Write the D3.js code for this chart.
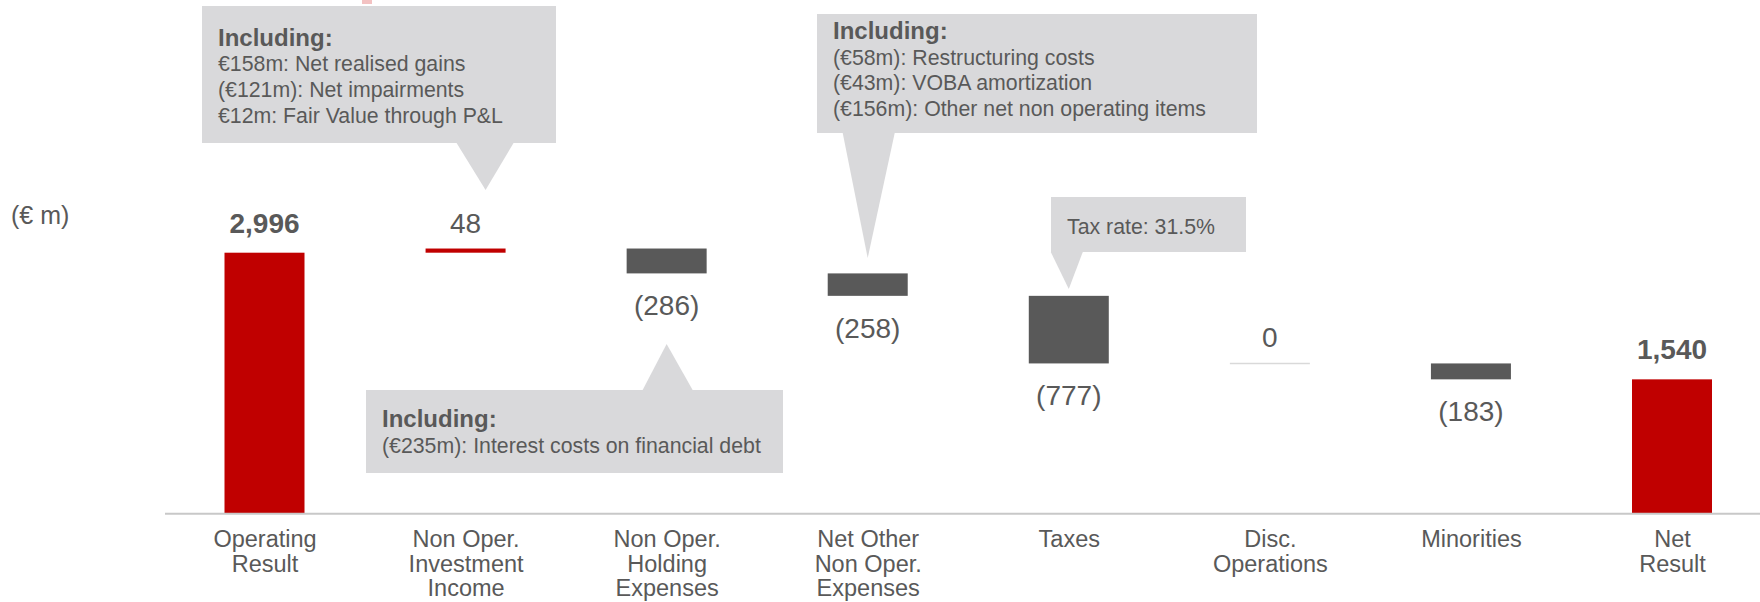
<!DOCTYPE html>
<html>
<head>
<meta charset="utf-8">
<script src="https://cdn.jsdelivr.net/npm/d3@7"></script>
<style>
  body { margin: 0; background: #fff; }
  svg { display: block; font-family: "Liberation Sans", Arial, sans-serif; }
</style>
</head>
<body>
<div id="chart"></div>
<script>
// data (€ m)
var categories = ["Operating\nResult", "Non Oper.\nInvestment\nIncome", "Non Oper.\nHolding\nExpenses",
    "Net Other\nNon Oper.\nExpenses", "Taxes", "Disc.\nOperations", "Minorities", "Net\nResult"];
var values = [2996, 48, -286, -258, -777, 0, -183, 1540];
var isTotal = [true, false, false, false, false, false, false, true];

var unitLabel = "(€ m)";
var investNotes = ["Including:", "€158m: Net realised gains", "(€121m): Net impairments", "€12m: Fair Value through P&L"];
var holdingNotes = ["Including:", "(€235m): Interest costs on financial debt"];
var otherNotes = ["Including:", "(€58m): Restructuring costs", "(€43m): VOBA amortization", "(€156m): Other net non operating items"];
var taxNotes = ["Tax rate: 31.5%"];

var width = 1760, height = 602;
var red = "#C00000", dark = "#595959", boxFill = "#D9D9DB", textCol = "#595959";

var svg = d3.select("#chart").append("svg")
    .attr("width", width)
    .attr("height", height);

// scales
var x = d3.scalePoint()
    .domain(categories)
    .range([264.5, 1672]);
var barW = 80;
var y = d3.scaleLinear()
    .domain([0, 2996])
    .range([513.3, 252.7]);

// waterfall steps
var run = 0;
var steps = values.map(function(v, i) {
    var s;
    if (isTotal[i]) { s = {lo: 0, hi: v}; run = v; }
    else { s = {lo: Math.min(run, run + v), hi: Math.max(run, run + v)}; run = run + v; }
    s.v = v; s.cat = categories[i]; s.total = isTotal[i];
    return s;
});

// tiny red tip cut off at the top
svg.append("rect").attr("x", 362).attr("y", 0).attr("width", 10).attr("height", 4)
    .attr("fill", "#f3c2c2");

// callouts
function callout(lines, bx, by, bw, bh, tri, firstBase) {
    var g = svg.append("g");
    g.append("rect").attr("x", bx).attr("y", by).attr("width", bw).attr("height", bh).attr("fill", boxFill);
    g.append("path").attr("d", "M" + tri.map(function(p) { return p.join(","); }).join("L") + "Z").attr("fill", boxFill);
    g.selectAll("text").data(lines).enter().append("text")
        .attr("x", bx + 16)
        .attr("y", function(d, i) { return firstBase + i * 25.6; })
        .attr("fill", textCol)
        .style("font-size", function(d) { return d === "Including:" ? "24px" : "21.3px"; })
        .style("font-weight", function(d) { return d === "Including:" ? "bold" : "normal"; })
        .text(function(d) { return d; });
}
var c2 = x(categories[1]), c3 = x(categories[2]), c4 = x(categories[3]), c5 = x(categories[4]);
callout(investNotes, 202, 6, 354, 137, [[c2 - 9, 143], [c2 + 48, 143], [c2 + 20, 190]], 45.7);
callout(otherNotes, 817, 14, 440, 119, [[c4 - 25, 133], [c4 + 27, 133], [c4, 258]], 39);
callout(holdingNotes, 366, 390, 417, 83, [[c3 - 24, 390], [c3 + 26, 390], [c3, 344]], 427.3);
callout(taxNotes, 1051, 197, 195, 55, [[c5 - 18, 252], [c5 + 14, 252], [c5, 289]], 234);

// unit label
svg.append("text").attr("x", 11).attr("y", 224)
    .attr("fill", textCol).style("font-size", "25px").text(unitLabel);

// bars
svg.append("g").selectAll("rect")
    .data(steps.filter(function(d) { return d.v !== 0; }))
    .enter().append("rect")
    .attr("x", function(d) { return x(d.cat) - barW / 2; })
    .attr("y", function(d) { return y(d.hi); })
    .attr("width", barW)
    .attr("height", function(d) { return y(d.lo) - y(d.hi); })
    .attr("fill", function(d) { return d.v > 0 ? red : dark; });

// zero step drawn as a faint line
svg.append("g").selectAll("line")
    .data(steps.filter(function(d) { return d.v === 0; }))
    .enter().append("line")
    .attr("x1", function(d) { return x(d.cat) - barW / 2; })
    .attr("x2", function(d) { return x(d.cat) + barW / 2; })
    .attr("y1", function(d) { return y(d.hi); })
    .attr("y2", function(d) { return y(d.hi); })
    .attr("stroke", "#D9D9D9").attr("stroke-width", 1.5);

// value labels
var fmt = d3.format(",");
svg.append("g").selectAll("text")
    .data(steps)
    .enter().append("text")
    .attr("x", function(d) { return x(d.cat); })
    .attr("y", function(d) {
        if (d.v < 0) return y(d.lo) + 42;
        return y(d.hi) - (d.total ? 20 : 16);
    })
    .attr("text-anchor", "middle")
    .attr("fill", textCol)
    .style("font-size", "28px")
    .style("font-weight", function(d) { return d.total ? "bold" : "normal"; })
    .text(function(d) { return d.v < 0 ? "(" + fmt(-d.v) + ")" : fmt(d.v); });

// baseline
svg.append("line")
    .attr("x1", 165).attr("x2", width)
    .attr("y1", y(0) + 0.5).attr("y2", y(0) + 0.5)
    .attr("stroke", "#C8C8C8").attr("stroke-width", 2);

// category axis with multi-line labels
var xAxis = svg.append("g")
    .attr("transform", "translate(0," + y(0) + ")")
    .call(d3.axisBottom(x).tickSize(0).tickFormat(""));
xAxis.select(".domain").remove();
xAxis.selectAll(".tick").append("text")
    .attr("text-anchor", "middle")
    .attr("fill", textCol)
    .style("font-size", "23.5px")
    .each(function(d) {
        var t = d3.select(this);
        d.split("\n").forEach(function(line, i) {
            t.append("tspan").attr("x", 0).attr("y", 34 + i * 24.5).text(line);
        });
    });
</script>
</body>
</html>
